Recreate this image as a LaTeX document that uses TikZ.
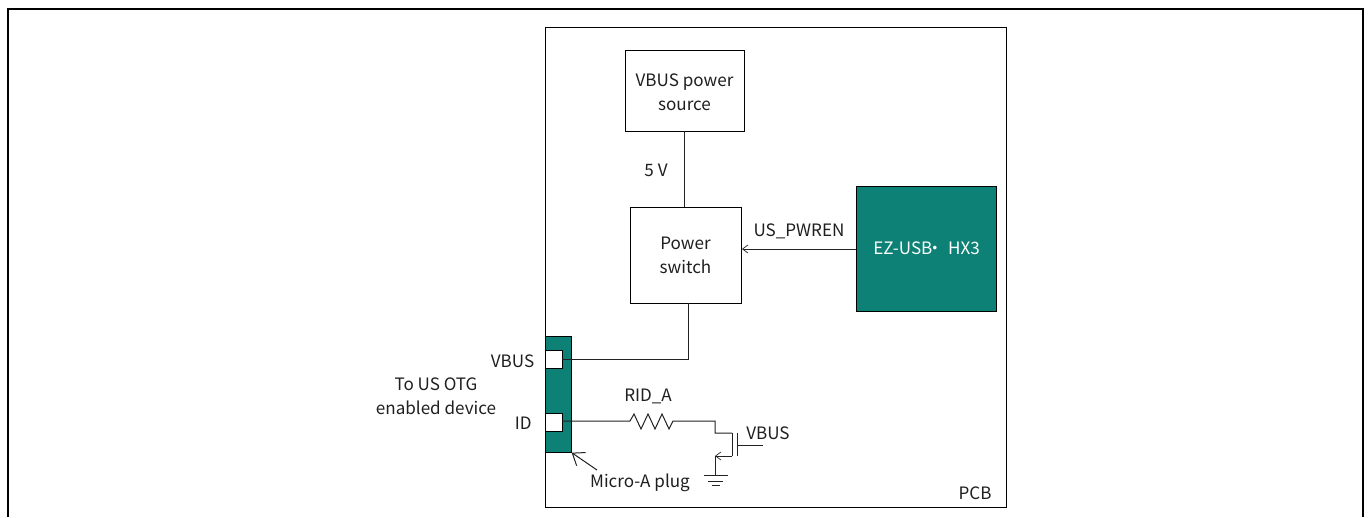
\documentclass[tikz,border=0pt]{standalone}
\usepackage{fontspec}
\setmainfont{Noto Sans CJK SC}
\usetikzlibrary{arrows.meta}
\definecolor{teal1}{HTML}{0D8175}
\definecolor{wire}{HTML}{222222}
\tikzset{
  x=0.75pt,y=-0.75pt,
  lbl/.style={inner sep=0pt,font=\fontsize{12.8}{18}\selectfont,text=black!88,align=center},
  wirel/.style={draw=wire,line width=0.75pt},
  boxw/.style={draw=black,line width=0.75pt,fill=white,inner sep=0pt},
  boxt/.style={draw=black,line width=0.75pt,fill=teal1,inner sep=0pt},
  arr/.style={-{Straight Barb[length=4pt,width=6pt,line width=0.5pt]}},
  arrbig/.style={-{Straight Barb[length=8pt,width=12pt,line width=0.75pt]}},
}
\begin{document}
\begin{tikzpicture}
\useasboundingbox (0,0) rectangle (1369,517);
% outer frame (open at the bottom)
\coordinate (fbl) at (8,517); \coordinate (ftl) at (8,9);
\coordinate (ftr) at (1363,9); \coordinate (fbr) at (1363,517);
\draw[black,line width=1.5pt] (fbl) -- (ftl) -- (ftr) -- (fbr);
% PCB
\node[boxw,minimum width=345.75pt,minimum height=360pt,anchor=north west] (pcb) at (545,27) {};
\node[lbl] (pcbl) at (975,493) {PCB};
% blocks
\node[boxw,minimum width=89.25pt,minimum height=60.75pt,anchor=north west] (src) at (625,50) {};
\node[lbl] (srct) at (684.5,92) {VBUS power\\source};
\node[boxw,minimum width=83.6pt,minimum height=72pt,anchor=north west] (sw) at (629.5,207) {};
\node[lbl] (swt) at (685.5,255.5) {Power\\switch};
\node[boxt,minimum width=105pt,minimum height=93.75pt,anchor=north west] (hx) at (856,186) {};
\node[lbl,text=white] (hxt) at (926.5,248) {EZ-USB\kern-4.5pt·\hspace{3.5pt}HX3};
% plug
\node[draw=black,line width=0.5pt,fill=teal1,inner sep=0pt,minimum width=19.5pt,minimum height=87pt,anchor=north west] (plug) at (545,336) {};
\node[boxw,minimum width=12.75pt,minimum height=13.5pt,anchor=north west] (pv) at (545,350) {};
\node[boxw,minimum width=12.75pt,minimum height=14pt,anchor=north west] (pid) at (545,412.5) {};
% labels
\node[lbl] (l5v) at (656,170) {5 V};
\node[lbl] (lpw) at (799,231) {US\_PWREN};
\node[lbl,anchor=east] (lvb) at (534.5,361) {VBUS};
\node[lbl,anchor=east] (lid) at (532,423) {ID};
\node[lbl] (lot) at (436,396) {To US OTG\\enabled device};
\node[lbl] (lrid) at (648,396) {RID\_A};
\node[lbl,anchor=west] (lvg) at (746,433) {VBUS};
\node[lbl] (lmic) at (640,483) {Micro-A plug};
% connectors
\coordinate (sw5) at (684,207); \coordinate (src5) at (684,131);
\draw[wirel] (src5) -- (sw5);
\draw[wirel,arr] (hx.west) -- (sw.east |- hx.west);
\coordinate (swo) at (688,303);
\coordinate (pvo) at (562,359);
\draw[wirel] (swo) -- (688,359) -- (pvo);
% resistor and MOSFET
\coordinate (pido) at (562,421); \coordinate (ra) at (630,421); \coordinate (rb) at (673,421);
\draw[wirel] (pido) -- (ra) -- (634,414) -- (641,429) -- (648,414) -- (655,429) -- (662,414) -- (669,429) -- (rb) -- (715,421) -- (715,433) -- (732,433);
\coordinate (dtop) at (732,433); \coordinate (dbot) at (732,456);
\draw[wirel] (dtop) -- (dbot);
\coordinate (ctop) at (737,433); \coordinate (cbot) at (737,456);
\draw[wirel] (ctop) -- (cbot);
\coordinate (gate) at (763,445); \coordinate (gin) at (737,445);
\draw[wirel] (gin) -- (gate);
\coordinate (ss) at (715,456);
\draw[wirel,arr] (dbot) -- (ss);
\coordinate (gnd) at (715,475);
\draw[wirel] (ss) -- (gnd);
\draw[wirel] (704,475.5) -- (728,475.5) (708,481) -- (723,481) (712,485.5) -- (720,485.5);
% callout
\coordinate (cal) at (597,470);
\draw[wirel,arrbig] (cal) -- (plug.south east);
\end{tikzpicture}
\end{document}
